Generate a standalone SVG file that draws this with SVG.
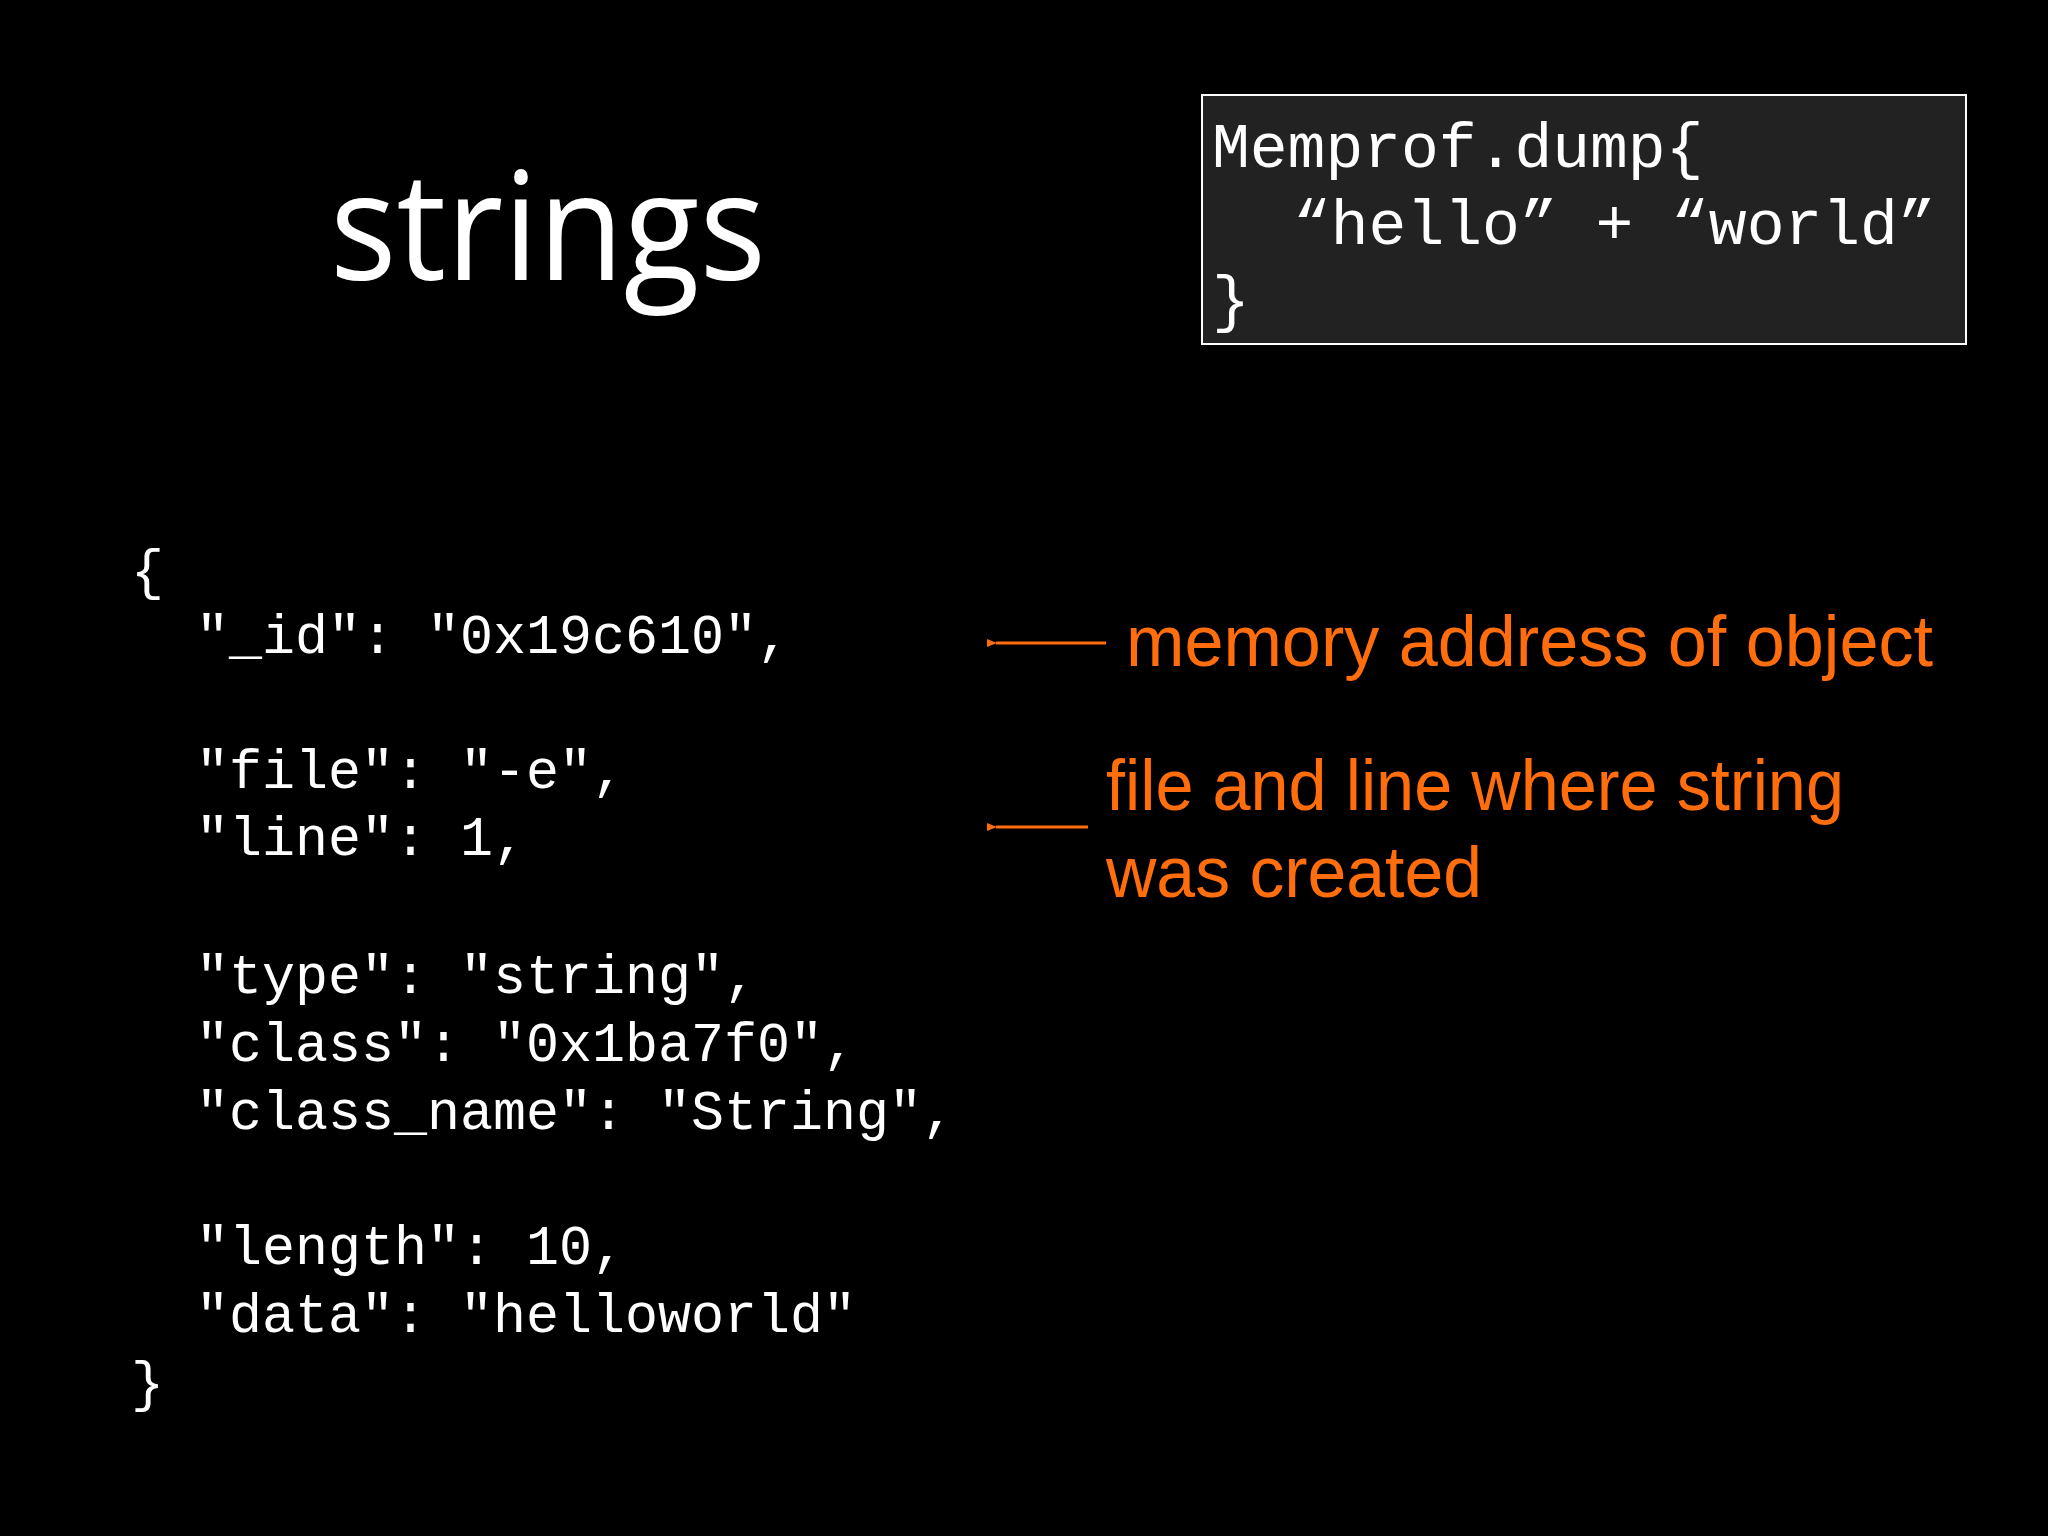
<svg xmlns="http://www.w3.org/2000/svg" width="2048" height="1536" viewBox="0 0 2048 1536">
<style>
.mono{font-family:"Liberation Mono","Courier New",monospace;fill:#fff}
.or{font-family:"Liberation Sans",Arial,sans-serif;fill:#ff6d0c;font-size:72px}
.arr{stroke:#ff6d0c;stroke-width:3;fill:none}
</style>
<defs><marker id="ah" markerWidth="10" markerHeight="8" refX="1" refY="4" orient="auto" markerUnits="userSpaceOnUse"><path d="M10,0 L0,4 L10,8 Z" fill="#ff6d0c"/></marker></defs>
<rect width="2048" height="1536" fill="#000"/>
<g id="title"><text x="330" y="280" font-family="'Open Sans',sans-serif" font-size="150" fill="#fff" textLength="436" lengthAdjust="spacingAndGlyphs">strings</text></g>
<g id="codebox">
<rect x="1202" y="95" width="764" height="249" fill="#222" stroke="#fff" stroke-width="2"/>
<text class="mono" font-size="63" x="1212" y="167">Memprof.dump{</text>
<text class="mono" font-size="63" x="1293" y="244">“hello” + “world”</text>
<text class="mono" font-size="63" x="1212" y="320">}</text>
</g>
<g id="json" class="mono" font-size="55">
<text x="131" y="588">{</text>
<text x="196" y="653">"_id": "0x19c610",</text>
<text x="196" y="788">"file": "-e",</text>
<text x="196" y="855">"line": 1,</text>
<text x="196" y="993">"type": "string",</text>
<text x="196" y="1061">"class": "0x1ba7f0",</text>
<text x="196" y="1129">"class_name": "String",</text>
<text x="196" y="1264">"length": 10,</text>
<text x="196" y="1332">"data": "helloworld"</text>
<text x="131" y="1400">}</text>
</g>
<g id="connectors">
<line class="arr" x1="1106" y1="643" x2="996" y2="643" marker-end="url(#ah)"/>
<line class="arr" x1="1088" y1="827" x2="996" y2="827" marker-end="url(#ah)"/>
</g>
<g id="note1"><text class="or" x="1126" y="666" textLength="807" lengthAdjust="spacingAndGlyphs">memory address of object</text></g>
<g id="note2">
<text class="or" x="1106" y="810" textLength="738" lengthAdjust="spacingAndGlyphs">file and line where string</text>
<text class="or" x="1106" y="897" textLength="376" lengthAdjust="spacingAndGlyphs">was created</text>
</g>
</svg>
